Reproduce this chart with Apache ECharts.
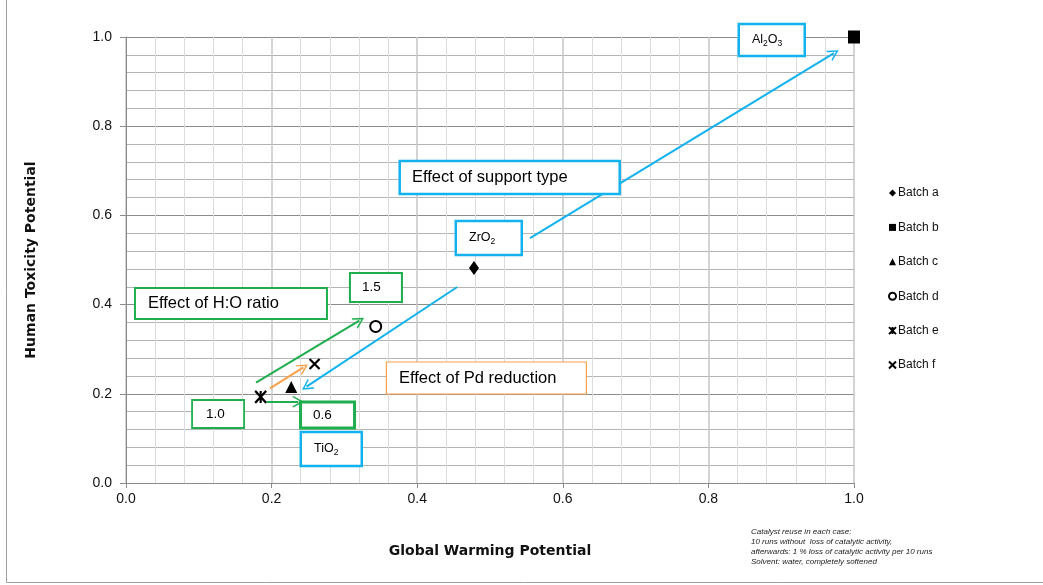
<!DOCTYPE html>
<html>
<head>
<meta charset="utf-8">
<script src="https://cdn.jsdelivr.net/npm/echarts@6/dist/echarts.min.js"></script>
<style>
html,body{margin:0;padding:0;background:#fff;}
#chart{width:1043px;height:585px;}
</style>
</head>
<body>
<div id="chart"></div>
<script>
// ---- data ----
const batchNames = ['Batch a', 'Batch b', 'Batch c', 'Batch d', 'Batch e', 'Batch f'];
const gwp = [0.478, 1.0, 0.227, 0.343, 0.185, 0.259];   // Global Warming Potential
const htp = [0.482, 1.0, 0.215, 0.351, 0.193, 0.267];   // Human Toxicity Potential
const xTicks = [0, 0.2, 0.4, 0.6, 0.8, 1.0];
const yTicks = [0, 0.2, 0.4, 0.6, 0.8, 1.0];

// annotation arrows: [x1, y1, x2, y2] (arrow head at end 2)
const arrowsBlue = [[0.555, 0.549, 0.9725, 0.964], [0.455, 0.4395, 0.248, 0.216]];
const arrowsGreen = [[0.1786, 0.225, 0.3205, 0.364], [0.1932, 0.1823, 0.2367, 0.1823]];
const arrowsOrange = [[0.1978, 0.2123, 0.2436, 0.2594]];

// annotation boxes: text, left-x (data), centre-y (data)
const noteTexts = ['Al{s|2}O{s|3}', 'Effect of support type', 'ZrO{s|2}', 'Effect of H:O ratio', '1.5', 'Effect of Pd reduction', '1.0', '0.6', 'TiO{s|2}'];
const noteX = [0.8434, 0.3777, 0.4547, 0.0137, 0.309, 0.3585, 0.092, 0.2418, 0.2418];
const noteY = [0.9933, 0.685, 0.5493, 0.4025, 0.4383, 0.2354, 0.1547, 0.1525, 0.0762];

const footnote = [
  'Catalyst reuse in each case:',
  '10 runs without  loss of catalytic activity,',
  'afterwards: 1 % loss of catalytic activity per 10 runs',
  'Solvent: water, completely softened'
];

// ---- styles ----
const BLUE = '#12B2EE', GREEN = '#1FAE4E', ORANGE = '#F9A04B';
const FONT = '"Liberation Sans", Arial, sans-serif';
const TITLEFONT = '"DejaVu Sans", "Liberation Sans", sans-serif';
const noteStyles = [
  {w: 66, h: 32, pl: 12, c: BLUE, bw: 2.5, fs: 12.5},
  {w: 220, h: 33, pl: 11, c: BLUE, bw: 2.5, fs: 16.5},
  {w: 66, h: 34, pl: 12, c: BLUE, bw: 2.5, fs: 12.5},
  {w: 192, h: 31, pl: 12, c: GREEN, bw: 2, fs: 16.5},
  {w: 52, h: 29, pl: 11, c: GREEN, bw: 2, fs: 13.5},
  {w: 200, h: 32, pl: 12, c: ORANGE, bw: 1.2, fs: 16.5},
  {w: 52, h: 28, pl: 13, c: GREEN, bw: 1.8, fs: 13.5},
  {w: 54, h: 26, pl: 11, c: GREEN, bw: 3, fs: 13.5},
  {w: 61, h: 34, pl: 12, c: BLUE, bw: 2.5, fs: 12.5}
];

const starPath = 'path://M0,0L10,10M10,0L0,10M5,0L5,10';
const xPath = 'path://M0,0L10,10M10,0L0,10';
const chevron = 'path://M0,10L5,0L10,10L8.6,10L5,2.8L1.4,10Z';

const symbols = [
  {symbol: 'diamond', size: [10, 14], fill: '#000', bw: 0},
  {symbol: 'rect', size: [12, 13], fill: '#000', bw: 0},
  {symbol: 'triangle', size: [12, 12], fill: '#000', bw: 0},
  {symbol: 'circle', size: 11, fill: '#fff', bw: 2},
  {symbol: starPath, size: [11, 12], fill: 'none', bw: 2.2},
  {symbol: xPath, size: [10, 10], fill: 'none', bw: 2.2}
];

const chart = echarts.init(document.getElementById('chart'), null, {renderer: 'canvas'});

const batchSeries = batchNames.map((name, i) => ({
  name: name,
  type: 'scatter',
  z: 6,
  symbol: symbols[i].symbol,
  symbolSize: symbols[i].size,
  itemStyle: {color: symbols[i].fill === 'none' ? 'rgba(0,0,0,0)' : symbols[i].fill, borderColor: '#000', borderWidth: symbols[i].bw, opacity: 1},
  data: [[gwp[i], htp[i]]]
}));

function arrowSeries(list, color, name) {
  return {
    name: name,
    type: 'scatter',
    data: [],
    z: 3,
    markLine: {
      silent: true,
      animation: false,
      symbol: ['none', chevron],
      symbolSize: [12, 11],
      label: {show: false},
      lineStyle: {color: color, width: 2, type: 'solid', opacity: 1},
      data: list.map(a => [{coord: [a[0], a[1]]}, {coord: [a[2], a[3]]}])
    }
  };
}

const notesSeries = {
  name: 'notes',
  type: 'scatter',
  z: 5,
  symbolSize: 0,
  silent: true,
  itemStyle: {opacity: 1},
  data: noteTexts.map((t, i) => {
    const s = noteStyles[i];
    return {
      value: [noteX[i], noteY[i]],
      label: {
        show: true,
        position: 'inside',
        align: 'left',
        verticalAlign: 'middle',
        formatter: t,
        fontFamily: FONT,
        fontSize: s.fs,
        color: '#000',
        backgroundColor: '#fff',
        borderColor: s.c,
        borderWidth: s.bw,
        padding: [0, 0, 0, s.pl],
        width: s.w - s.pl - s.bw,
        lineHeight: s.h - s.bw,
        rich: {
          s: {fontSize: 8.5, fontFamily: FONT, color: '#000', padding: [7, 0, 0, 0]}
        }
      }
    };
  })
};

const option = {
  animation: false,
  backgroundColor: '#fff',
  grid: {left: 126, right: 189, top: 37, bottom: 102},
  xAxis: {
    type: 'value', min: 0, max: 1, interval: 0.2,
    name: 'Global Warming Potential', nameLocation: 'middle', nameGap: 61,
    nameTextStyle: {fontFamily: TITLEFONT, fontSize: 14, fontWeight: 'bold', color: '#111'},
    axisLine: {show: true, lineStyle: {color: '#8a8a8a', width: 1}},
    axisTick: {show: true, length: 5, lineStyle: {color: '#8a8a8a'}},
    axisLabel: {fontFamily: FONT, fontSize: 14, color: '#111', margin: 9, formatter: v => v.toFixed(1)},
    splitLine: {show: true, lineStyle: {color: '#c6c6c6', width: 1.5}},
    minorTick: {show: false, splitNumber: 5},
    minorSplitLine: {show: true, lineStyle: {color: '#dcdcdc', width: 1}}
  },
  yAxis: {
    type: 'value', min: 0, max: 1, interval: 0.2,
    name: 'Human Toxicity Potential', nameLocation: 'middle', nameGap: 88,
    nameTextStyle: {fontFamily: TITLEFONT, fontSize: 14, fontWeight: 'bold', color: '#111'},
    axisLine: {show: true, lineStyle: {color: '#8a8a8a', width: 1}},
    axisTick: {show: true, length: 6, lineStyle: {color: '#8a8a8a'}},
    axisLabel: {fontFamily: FONT, fontSize: 14, color: '#111', margin: 14, formatter: v => v.toFixed(1)},
    splitLine: {show: true, lineStyle: {color: '#8c8c8c', width: 1}},
    minorTick: {show: false, splitNumber: 5},
    minorSplitLine: {show: true, lineStyle: {color: '#b3b3b3', width: 1}}
  },
  legend: {
    orient: 'vertical', left: 883, top: 181,
    data: batchNames,
    itemWidth: 7, itemHeight: 7, itemGap: 20.4,
    textStyle: {fontFamily: FONT, fontSize: 12, color: '#111', lineHeight: 14, padding: [0, 0, 0, -3]},
    selectedMode: false
  },
  graphic: [
    {type: 'line', shape: {x1: 6.5, y1: 0, x2: 6.5, y2: 582.5}, style: {stroke: '#a0a0a0', lineWidth: 1}, silent: true},
    {type: 'line', shape: {x1: 6.5, y1: 582.5, x2: 1043, y2: 582.5}, style: {stroke: '#a0a0a0', lineWidth: 1}, silent: true},
    {
      type: 'text', left: 751, top: 527, silent: true,
      style: {text: footnote.join('\n'), font: 'italic 8px "Liberation Sans", sans-serif', fill: '#222', lineHeight: 10}
    }
  ],
  series: [
    arrowSeries(arrowsBlue, BLUE, 'blueArrows'),
    arrowSeries(arrowsGreen, GREEN, 'greenArrows'),
    arrowSeries(arrowsOrange, ORANGE, 'orangeArrows'),
    notesSeries
  ].concat(batchSeries)
};

chart.setOption(option);
</script>
</body>
</html>
